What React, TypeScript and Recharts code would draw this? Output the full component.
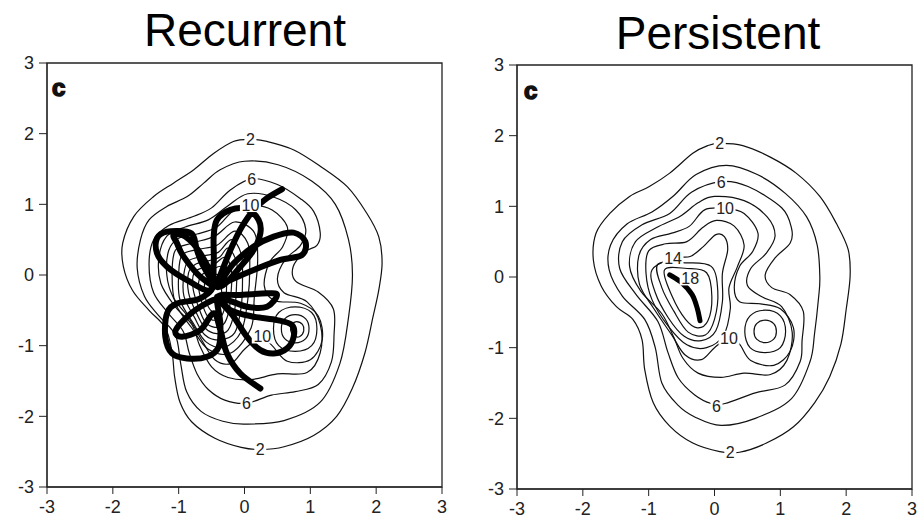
import React from 'react';
import { ComposedChart, Line, XAxis, YAxis, Scatter, ReferenceArea } from 'recharts';

// ---------- data ----------
const TICKS = [-3, -2, -1, 0, 1, 2, 3];

// Recurrent panel contours (x, y)
const recL2 = [[0.09,1.92],[0.34,1.89],[0.75,1.77],[1.15,1.54],[1.56,1.25],[1.86,0.87],[2.04,0.54],[2.09,0.17],[2.04,-0.21],[1.95,-0.6],[1.83,-1.1],[1.64,-1.6],[1.4,-2.0],[1.05,-2.27],[0.6,-2.43],[0.25,-2.47],[-0.05,-2.44],[-0.45,-2.31],[-0.8,-2.08],[-0.98,-1.8],[-1.06,-1.45],[-1.1,-1.1],[-1.2,-0.75],[-1.45,-0.5],[-1.7,-0.22],[-1.84,0.12],[-1.85,0.45],[-1.68,0.83],[-1.38,1.11],[-1.08,1.3],[-0.77,1.49],[-0.47,1.72],[-0.17,1.89]];
const recL4 = [[0.0,1.61],[0.51,1.56],[1.02,1.33],[1.38,1.0],[1.58,0.5],[1.64,0.0],[1.58,-0.6],[1.45,-1.25],[1.15,-1.8],[0.6,-2.06],[0.0,-2.11],[-0.33,-2.07],[-0.66,-1.93],[-0.88,-1.65],[-0.97,-1.25],[-1.05,-0.85],[-1.3,-0.58],[-1.52,-0.3],[-1.63,0.1],[-1.58,0.5],[-1.45,0.78],[-1.18,0.97],[-0.87,1.11],[-0.62,1.3],[-0.37,1.49]];
const recL6 = [[0.11,1.36],[0.5,1.28],[0.85,1.08],[1.05,0.9],[1.15,0.6],[1.1,0.42],[0.92,0.33],[0.74,0.12],[0.78,-0.09],[1.12,-0.24],[1.35,-0.48],[1.36,-0.85],[1.32,-1.23],[1.12,-1.55],[0.77,-1.65],[0.41,-1.7],[0.03,-1.815],[-0.3,-1.77],[-0.55,-1.62],[-0.72,-1.4],[-0.84,-1.1],[-0.93,-0.8],[-1.15,-0.55],[-1.38,-0.25],[-1.45,0.15],[-1.38,0.5],[-1.15,0.7],[-0.8,0.82],[-0.5,0.95],[-0.22,1.2]];
const recL8 = [[0.05,1.15],[0.45,1.1],[0.78,0.92],[0.93,0.65],[0.85,0.42],[0.62,0.22],[0.5,-0.05],[0.6,-0.25],[0.95,-0.38],[1.15,-0.7],[1.15,-1.1],[0.95,-1.38],[0.5,-1.4],[0.1,-1.48],[-0.25,-1.45],[-0.5,-1.3],[-0.68,-1.0],[-0.8,-0.7],[-1.05,-0.45],[-1.27,-0.12],[-1.3,0.25],[-1.18,0.55],[-0.9,0.68],[-0.55,0.78],[-0.25,0.98]];
const recL10 = [[0.09,0.99],[0.42,0.92],[0.65,0.68],[0.58,0.4],[0.38,0.18],[0.3,-0.15],[0.45,-0.36],[0.85,-0.4],[1.12,-0.58],[1.18,-0.92],[1.0,-1.2],[0.65,-1.22],[0.42,-1.0],[0.25,-0.88],[0.0,-1.05],[-0.2,-1.25],[-0.45,-1.2],[-0.65,-0.92],[-0.85,-0.6],[-1.08,-0.32],[-1.18,0.0],[-1.15,0.35],[-1.0,0.52],[-0.72,0.58],[-0.42,0.68],[-0.18,0.9]];
const recL12 = [[-0.15,0.75],[0.15,0.6],[0.2,0.2],[0.15,-0.3],[0.1,-0.75],[-0.2,-1.1],[-0.55,-1.05],[-0.8,-0.75],[-1.05,-0.4],[-1.1,0.0],[-1.05,0.35],[-0.8,0.45],[-0.45,0.55]];
const recL14 = [[-0.15,0.62],[0.05,0.45],[0.08,0.1],[0.05,-0.35],[-0.05,-0.8],[-0.3,-1.02],[-0.58,-0.95],[-0.78,-0.68],[-0.98,-0.35],[-1.0,0.0],[-0.95,0.28],[-0.72,0.36],[-0.42,0.42]];
const recL16 = [[-0.2,0.5],[-0.05,0.3],[-0.03,-0.05],[-0.05,-0.45],[-0.15,-0.82],[-0.38,-0.92],[-0.6,-0.85],[-0.76,-0.6],[-0.92,-0.3],[-0.92,0.02],[-0.85,0.2],[-0.62,0.27],[-0.4,0.32]];
const recL18 = [[-0.25,0.38],[-0.12,0.18],[-0.12,-0.12],[-0.15,-0.5],[-0.25,-0.78],[-0.42,-0.83],[-0.6,-0.75],[-0.74,-0.52],[-0.85,-0.25],[-0.85,0.03],[-0.75,0.15],[-0.55,0.2],[-0.38,0.25]];
const recL20 = [[-0.3,0.25],[-0.2,0.08],[-0.2,-0.2],[-0.24,-0.52],[-0.32,-0.7],[-0.45,-0.74],[-0.6,-0.66],[-0.7,-0.45],[-0.78,-0.2],[-0.77,0.02],[-0.65,0.1],[-0.45,0.16]];
const recL22 = [[-0.35,0.12],[-0.28,-0.05],[-0.28,-0.3],[-0.33,-0.55],[-0.45,-0.64],[-0.57,-0.57],[-0.65,-0.38],[-0.7,-0.15],[-0.65,0.0],[-0.5,0.07]];
const recL24 = [[-0.4,0.0],[-0.35,-0.18],[-0.37,-0.42],[-0.46,-0.52],[-0.55,-0.45],[-0.6,-0.28],[-0.6,-0.1],[-0.5,-0.02]];
const recRing12 = [[0.77,-0.45],[1.02,-0.53],[1.1,-0.76],[1.02,-1.0],[0.77,-1.08],[0.52,-1.0],[0.44,-0.76],[0.52,-0.53]];
const recRing14 = [[0.77,-0.56],[0.93,-0.62],[0.98,-0.76],[0.93,-0.9],[0.77,-0.96],[0.61,-0.9],[0.56,-0.76],[0.61,-0.62]];
const recRing16 = [[0.79,-0.66],[0.88,-0.7],[0.9,-0.79],[0.84,-0.87],[0.75,-0.86],[0.7,-0.78],[0.72,-0.7]];

const recTrajectory = [[0.57,1.214],[0.342,1.087],[0.139,0.921],[-0.038,0.685],[-0.19,0.402],[-0.316,0.118],[-0.418,-0.165],
  [-0.215,-0.071],[0.139,0.071],[0.544,0.213],[0.873,0.283],[0.924,0.472],[0.747,0.6],[0.443,0.543],[0.139,0.402],[-0.165,0.165],[-0.418,-0.118],
  [-0.62,0.118],[-0.722,0.354],[-0.772,0.543],[-0.873,0.614],[-1.177,0.614],[-1.329,0.52],[-1.329,0.307],[-1.177,0.118],[-0.873,-0.071],[-0.519,-0.213],
  [-0.468,0.165],[-0.468,0.543],[-0.418,0.779],[-0.215,0.921],[0.038,0.931],[0.215,0.779],[0.241,0.59],[0.139,0.354],[-0.063,0.118],[-0.367,-0.165],
  [-0.671,-0.024],[-0.924,0.26],[-1.025,0.449],[-1.076,0.567],[-0.899,0.543],[-0.671,0.307],[-0.468,-0.118],
  [-0.671,-0.331],[-1.025,-0.402],[-1.177,-0.543],[-1.203,-0.874],[-1.101,-1.11],[-0.873,-1.181],[-0.57,-1.157],[-0.392,-1.016],[-0.367,-0.685],[-0.418,-0.307],
  [-0.215,-0.496],[0.139,-0.59],[0.494,-0.638],[0.722,-0.709],[0.747,-0.874],[0.646,-1.039],[0.443,-1.11],[0.241,-1.063],[0.038,-0.874],[-0.165,-0.59],[-0.392,-0.307],
  [-0.063,-0.283],[0.342,-0.26],[0.494,-0.283],[0.342,-0.449],[0.038,-0.449],[-0.367,-0.331],
  [-0.671,-0.449],[-0.924,-0.638],[-1.051,-0.803],[-0.949,-0.874],[-0.671,-0.779],[-0.468,-0.543],
  [-0.367,-0.779],[-0.266,-1.11],[-0.063,-1.394],[0.241,-1.606]];

const recLabelX = [0.09, 0.11, 0.09, 0.27, 0.03, 0.24];
const recLabelY = [1.92, 1.36, 0.99, -0.87, -1.815, -2.46];
const recLabelText = ['2', '6', '10', '10', '6', '2'];

// Persistent panel contours (x, y)
const perL2 = [[0.08,1.89],[0.43,1.86],[0.84,1.7],[1.24,1.47],[1.6,1.14],[1.85,0.76],[2.03,0.39],[2.06,0.01],[2.0,-0.46],[1.92,-0.95],[1.75,-1.41],[1.52,-1.78],[1.2,-2.12],[0.79,-2.35],[0.38,-2.48],[0.08,-2.47],[-0.33,-2.35],[-0.68,-2.11],[-0.93,-1.78],[-1.06,-1.31],[-1.1,-0.89],[-1.24,-0.6],[-1.49,-0.42],[-1.72,-0.13],[-1.84,0.24],[-1.8,0.62],[-1.59,0.9],[-1.29,1.14],[-0.99,1.28],[-0.68,1.47],[-0.33,1.75],[-0.1,1.86]];
const perL4 = [[0.18,1.58],[0.65,1.45],[1.08,1.18],[1.4,0.85],[1.56,0.45],[1.6,0.0],[1.58,-0.3],[1.52,-0.8],[1.45,-1.2],[1.17,-1.72],[0.62,-2.0],[0.1,-2.1],[-0.3,-1.98],[-0.56,-1.81],[-0.8,-1.5],[-0.9,-1.0],[-1.06,-0.6],[-1.4,-0.27],[-1.6,0.1],[-1.58,0.45],[-1.33,0.75],[-0.95,0.92],[-0.62,1.15],[-0.28,1.45]];
const perL6 = [[0.1,1.35],[0.51,1.28],[1.02,0.98],[1.17,0.69],[1.15,0.48],[0.92,0.27],[0.77,0.03],[0.87,-0.15],[1.15,-0.25],[1.35,-0.49],[1.33,-0.9],[1.3,-1.2],[1.07,-1.53],[0.62,-1.64],[0.16,-1.79],[-0.05,-1.79],[-0.3,-1.67],[-0.55,-1.43],[-0.71,-1.06],[-0.86,-0.63],[-1.19,-0.25],[-1.44,0.12],[-1.4,0.5],[-1.1,0.74],[-0.68,0.9],[-0.35,1.2]];
const perL8 = [[0.0,1.14],[0.45,1.08],[0.8,0.85],[0.92,0.58],[0.78,0.33],[0.55,0.12],[0.5,-0.12],[0.72,-0.28],[1.02,-0.42],[1.18,-0.78],[1.1,-1.18],[0.85,-1.38],[0.45,-1.36],[0.1,-1.42],[-0.25,-1.36],[-0.48,-1.15],[-0.62,-0.85],[-0.8,-0.52],[-1.12,-0.2],[-1.29,0.15],[-1.2,0.5],[-0.88,0.7],[-0.52,0.86],[-0.25,1.05]];
const perL10 = [[0.16,0.97],[0.45,0.9],[0.66,0.62],[0.58,0.36],[0.38,0.15],[0.3,-0.15],[0.38,-0.35],[0.7,-0.38],[1.0,-0.45],[1.2,-0.72],[1.15,-1.05],[0.9,-1.25],[0.55,-1.18],[0.38,-0.95],[0.22,-0.86],[0.0,-1.0],[-0.2,-1.17],[-0.45,-1.1],[-0.65,-0.82],[-0.92,-0.45],[-1.14,-0.1],[-1.15,0.3],[-0.97,0.53],[-0.65,0.62],[-0.38,0.72],[-0.15,0.95]];
const perL12 = [[0.03,0.8],[0.3,0.72],[0.45,0.45],[0.35,0.15],[0.22,-0.15],[0.24,-0.45],[0.14,-0.82],[-0.12,-1.0],[-0.42,-0.96],[-0.7,-0.7],[-0.95,-0.32],[-1.04,0.05],[-1.0,0.37],[-0.74,0.47],[-0.42,0.5],[-0.18,0.7]];
const perL14 = [[-0.63,0.27],[-0.37,0.29],[-0.17,0.43],[0.02,0.6],[0.15,0.57],[0.2,0.38],[0.12,0.05],[0.12,-0.35],[0.02,-0.76],[-0.2,-0.9],[-0.46,-0.84],[-0.7,-0.58],[-0.9,-0.22],[-0.95,0.1]];
const perL16 = [[-0.86,0.18],[-0.45,0.2],[-0.05,0.15],[0.05,-0.2],[0.0,-0.6],[-0.14,-0.82],[-0.4,-0.78],[-0.62,-0.48],[-0.8,-0.15]];
const perL18 = [[-0.76,0.1],[-0.42,0.12],[-0.12,0.06],[-0.04,-0.28],[-0.1,-0.62],[-0.26,-0.72],[-0.44,-0.6],[-0.64,-0.28]];
const perRing12 = [[0.77,-0.47],[1.0,-0.55],[1.08,-0.77],[1.0,-1.0],[0.77,-1.07],[0.54,-1.0],[0.46,-0.77],[0.54,-0.55]];
const perRing14 = [[0.77,-0.61],[0.9,-0.66],[0.94,-0.77],[0.9,-0.88],[0.77,-0.93],[0.64,-0.88],[0.6,-0.77],[0.64,-0.66]];

const perTrajectory = [[-0.68,0.03],[-0.5,-0.08],[-0.34,-0.25],[-0.26,-0.45],[-0.22,-0.62]];

const perLabelX = [0.08, 0.1, 0.16, -0.63, -0.37, 0.22, 0.03, 0.24];
const perLabelY = [1.89, 1.35, 0.97, 0.27, -0.02, -0.86, -1.82, -2.47];
const perLabelText = ['2', '6', '10', '14', '18', '10', '6', '2'];

// ---------- helpers ----------
const toPts = (a: number[][]) => a.map(([x, y]) => ({ x, y }));
const toLabels = (xs: number[], ys: number[], t: string[]) => xs.map((x, i) => ({ x, y: ys[i], label: t[i] }));

const closedSmooth = (context: any) => {
  let p: number[][] = [];
  return {
    areaStart() {}, areaEnd() {},
    lineStart() { p = []; },
    point(x: number, y: number) { p.push([+x, +y]); },
    lineEnd() {
      const n = p.length;
      if (n < 3) return;
      context.moveTo(p[0][0], p[0][1]);
      for (let i = 0; i < n; i++) {
        const a = p[(i - 1 + n) % n], b = p[i], c = p[(i + 1) % n], d = p[(i + 2) % n];
        context.bezierCurveTo(b[0] + (c[0] - a[0]) / 6, b[1] + (c[1] - a[1]) / 6, c[0] - (d[0] - b[0]) / 6, c[1] - (d[1] - b[1]) / 6, c[0], c[1]);
      }
      context.closePath();
    },
  };
};

const openSmooth = (context: any) => {
  let p: number[][] = [];
  return {
    areaStart() {}, areaEnd() {},
    lineStart() { p = []; },
    point(x: number, y: number) { p.push([+x, +y]); },
    lineEnd() {
      const n = p.length;
      if (n < 2) return;
      context.moveTo(p[0][0], p[0][1]);
      for (let i = 0; i < n - 1; i++) {
        const a = p[Math.max(i - 1, 0)], b = p[i], c = p[i + 1], d = p[Math.min(i + 2, n - 1)];
        context.bezierCurveTo(b[0] + (c[0] - a[0]) / 6, b[1] + (c[1] - a[1]) / 6, c[0] - (d[0] - b[0]) / 6, c[1] - (d[1] - b[1]) / 6, c[0], c[1]);
      }
    },
  };
};

const FONT = '"Liberation Sans", Arial, Helvetica, sans-serif';

const LabelShape = (props: any) => {
  const { cx, cy, payload } = props;
  const t = String(payload.label);
  const w = t.length * 9 + 3;
  return (
    <g>
      <rect x={cx - w / 2} y={cy - 7} width={w} height={14} fill="#fff" />
      <text x={cx} y={cy + 6} textAnchor="middle" fontSize={16} fontFamily={FONT} fill="#222">{t}</text>
    </g>
  );
};

const tickStyle = { fontSize: 18, fontFamily: FONT, fill: '#222' };

type PanelProps = {
  left: number; width: number; top: number; yAxisWidth: number; xAxisHeight: number; rightMargin: number;
  contours: number[][][]; labels: { x: number; y: number; label: string }[]; traj: number[][]; trajWidth: number;
};

function Panel(p: PanelProps) {
  return (
    <div style={{ position: 'absolute', left: p.left, top: 0 }}>
      <ComposedChart width={p.width} height={519} margin={{ top: p.top, right: p.rightMargin, bottom: 0, left: 0 }}>
        <XAxis type="number" dataKey="x" domain={[-3, 3]} ticks={TICKS} interval={0} allowDataOverflow
          height={p.xAxisHeight} tickSize={7} tickMargin={6} tick={tickStyle} stroke="#222" />
        <YAxis type="number" dataKey="y" domain={[-3, 3]} ticks={TICKS} interval={0} allowDataOverflow
          width={p.yAxisWidth} tickSize={8} tickMargin={5} tick={tickStyle} stroke="#222" />
        <ReferenceArea x1={-3} x2={3} y1={-3} y2={3} fill="none" fillOpacity={0} stroke="#222" strokeWidth={1.3} ifOverflow="visible" />
        {p.contours.map((c, i) => (
          <Line key={'c' + i} data={toPts(c)} dataKey="y" type={closedSmooth as any} stroke="#111" strokeWidth={1.2}
            dot={false} activeDot={false} isAnimationActive={false} />
        ))}
        <Scatter data={p.labels} shape={LabelShape} isAnimationActive={false} />
        <Line data={toPts(p.traj)} dataKey="y" type={openSmooth as any} stroke="#000" strokeWidth={p.trajWidth}
          strokeLinecap="round" strokeLinejoin="round" dot={false} activeDot={false} isAnimationActive={false} />
      </ComposedChart>
    </div>
  );
}

export default function App() {
  return (
    <div style={{ position: 'absolute', left: 0, top: 0, width: 921, height: 519, background: '#fff' }}>
      <Panel left={0} width={460} top={63} yAxisWidth={47} xAxisHeight={32} rightMargin={18}
        contours={[recL2, recL4, recL6, recL8, recL10, recL12, recL14, recL16, recL18, recL20, recL22, recL24, recRing12, recRing14, recRing16]}
        labels={toLabels(recLabelX, recLabelY, recLabelText)} traj={recTrajectory} trajWidth={6} />
      <Panel left={460} width={461} top={65} yAxisWidth={57} xAxisHeight={30} rightMargin={9}
        contours={[perL2, perL4, perL6, perL8, perL10, perL12, perL14, perL16, perL18, perRing12, perRing14]}
        labels={toLabels(perLabelX, perLabelY, perLabelText)} traj={perTrajectory} trajWidth={5} />
      <svg width={921} height={519} style={{ position: 'absolute', left: 0, top: 0, pointerEvents: 'none' }}>
        <text x={245} y={46} textAnchor="middle" fontSize={46} fontFamily={FONT} fill="#000">Recurrent</text>
        <text x={718} y={49} textAnchor="middle" fontSize={46} fontFamily={FONT} fill="#000">Persistent</text>
        <text x={52} y={96} fontSize={24} fontWeight={700} fontFamily={FONT} fill="#111" stroke="#111" strokeWidth={1.6}>c</text>
        <text x={524} y={99} fontSize={24} fontWeight={700} fontFamily={FONT} fill="#111" stroke="#111" strokeWidth={1.6}>c</text>
      </svg>
    </div>
  );
}
